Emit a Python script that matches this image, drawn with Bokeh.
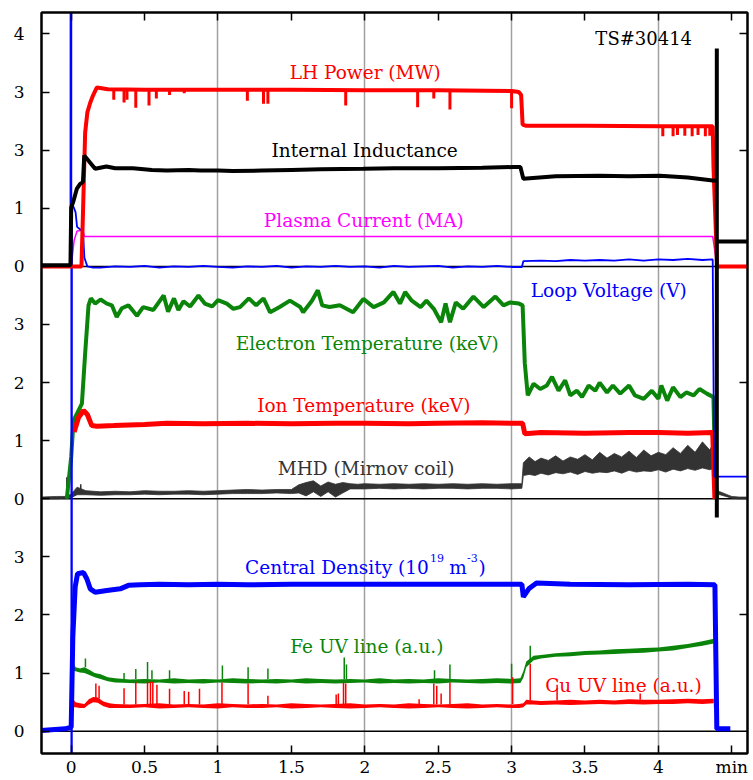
from bokeh.plotting import figure
from bokeh.models import Range1d, FixedTicker, LinearAxis, Span, Label
from bokeh.embed import file_html
from bokeh.resources import INLINE

# ---------------- axis / tick data ----------------
x_tick_vals = [0, 0.5, 1, 1.5, 2, 2.5, 3, 3.5, 4, 4.5]
x_tick_labels = ["0", "0.5", "1", "1.5", "2", "2.5", "3", "3.5", "4", "min"]
x_grid_vals = [1, 2, 3, 4]
y_tick_vals = [0, 1, 2, 3, 4, 5, 6, 7, 8, 9, 10, 11, 12]
y_tick_labels = ["0", "1", "2", "3", "0", "1", "2", "3", "0", "1", "3", "3", "4"]
y_right_ticks = [2, 6, 10, 12]
panel_zero = [0, 4, 8]

# ---------------- top panel ----------------
lh_t = [-0.21, 0.07, 0.08, 0.095, 0.11, 0.13, 0.15, 0.175, 0.25, 0.5, 1.0, 1.5, 2.0, 2.5,
        3.0, 3.05, 3.065, 3.075, 3.1, 3.5, 4.0, 4.37, 4.375, 4.40, 4.62]
lh_v = [0, 0, 0.9, 2.3, 2.65, 2.82, 2.95, 3.08, 3.05, 3.04, 3.04, 3.04, 3.03, 3.03,
        3.02, 3.0, 2.95, 2.44, 2.42, 2.42, 2.41, 2.41, 1.74, 0, 0]
lh_dip_t = [0.29, 0.36, 0.38, 0.44, 0.53, 0.58, 0.67, 0.77, 1.20, 1.31, 1.34, 1.87, 2.36,
            2.47, 2.58, 3.0, 4.03, 4.10, 4.13, 4.18, 4.23, 4.27, 4.32, 4.35]
lh_dip_base = [3.05, 3.05, 3.05, 3.05, 3.05, 3.05, 3.05, 3.05, 3.04, 3.04, 3.04, 3.04, 3.03,
               3.03, 3.03, 3.02, 2.41, 2.41, 2.41, 2.41, 2.41, 2.41, 2.41, 2.41]
lh_dip_v = [2.87, 2.82, 2.87, 2.73, 2.77, 2.89, 2.95, 2.98, 2.85, 2.80, 2.80, 2.77, 2.74,
            2.89, 2.70, 2.72, 2.24, 2.24, 2.26, 2.25, 2.24, 2.26, 2.24, 2.25]

li_t = [-0.21, -0.005, 0.0, 0.016, 0.039, 0.061, 0.08, 0.089, 0.118, 0.163, 0.24, 0.3, 0.42,
        0.55, 0.65, 0.8, 0.88, 1.0, 1.1, 1.3, 1.5, 1.7, 1.99, 2.2, 2.5, 2.8, 3.01, 3.06, 3.08,
        3.3, 3.6, 3.8, 4.01, 4.2, 4.37, 4.398, 4.398, 4.398, 4.398, 4.62]
li_v = [0.02, 0.02, 1.01, 1.13, 1.34, 1.42, 1.45, 1.91, 1.82, 1.68, 1.72, 1.69, 1.69,
        1.66, 1.65, 1.66, 1.65, 1.65, 1.64, 1.65, 1.66, 1.67, 1.68, 1.69, 1.69, 1.70, 1.71, 1.71, 1.51,
        1.55, 1.56, 1.55, 1.56, 1.53, 1.48, 1.48, 3.75, -4.32, 0.43, 0.43]

ip_t = [-0.21, 0.0, 0.02, 0.04, 0.08, 0.09, 4.37, 4.40, 4.62]
ip_v = [0, 0, 0.45, 0.61, 0.62, 0.515, 0.515, 0, 0]

lv_t = [-0.21, -0.005, 0.0, 0.002, 0.005, 0.015, 0.03, 0.04, 0.06, 0.08, 0.09, 0.11, 0.15,
        0.2, 0.3, 0.4, 0.5, 0.6, 0.7, 0.8, 0.9, 1.0, 1.1, 1.2, 1.3, 1.4, 1.5, 1.6, 1.7, 1.8,
        1.9, 2.0, 2.1, 2.2, 2.3, 2.4, 2.5, 2.6, 2.7, 2.8, 2.9, 3.0,
        3.07, 3.08, 3.2, 3.3, 3.4, 3.5, 3.6, 3.7, 3.8, 3.9, 4.0, 4.1, 4.2, 4.3, 4.37, 4.38, 4.62]
lv_v = [0, 0, 40, -40, 1.10, 1.03, 0.93, 0.68, 0.64, 0.60, 0.15, 0.0, -0.02,
        -0.02, 0.0, -0.01, 0.01, -0.02, 0.0, -0.01, 0.01, -0.01, -0.02, 0.0, -0.01, 0.01, -0.02, 0.0, -0.01, 0.01,
        -0.01, 0.0, -0.02, 0.01, -0.01, 0.0, 0.01, -0.02, 0.0, -0.01, 0.01, -0.01,
        -0.01, 0.09, 0.10, 0.09, 0.11, 0.10, 0.11, 0.10, 0.12, 0.10, 0.12, 0.11, 0.13, 0.11, 0.12, -3.62, -3.62]

# ---------------- middle panel ----------------
te_t = [-0.03, 0.0, 0.016, 0.04, 0.073, 0.095, 0.118, 0.134, 0.163, 0.2, 0.243, 0.277, 0.31, 0.345,
        0.39, 0.448, 0.49, 0.56, 0.63, 0.66, 0.70, 0.73, 0.765, 0.81, 0.867, 0.91, 0.96, 1.0, 1.06,
        1.105, 1.15, 1.21, 1.26, 1.31, 1.355, 1.42, 1.49, 1.56, 1.58, 1.64, 1.68, 1.71, 1.76, 1.83,
        1.92, 1.99, 2.06, 2.13, 2.195, 2.24, 2.275, 2.32, 2.38, 2.42, 2.47, 2.52, 2.55, 2.58, 2.62,
        2.67, 2.74, 2.81, 2.89, 2.945, 2.99, 3.05, 3.075, 3.09, 3.11, 3.15, 3.195, 3.24, 3.275, 3.32,
        3.365, 3.40, 3.445, 3.48, 3.525, 3.57, 3.60, 3.65, 3.69, 3.74, 3.80, 3.84, 3.90, 3.955, 4.0,
        4.02, 4.06, 4.10, 4.15, 4.19, 4.24, 4.28, 4.33, 4.375, 4.385, 4.40]
te_v = [0.0, 0.72, 1.35, 1.47, 1.64, 2.5, 3.33, 3.45, 3.36, 3.43, 3.36, 3.33, 3.13, 3.28,
        3.33, 3.15, 3.30, 3.25, 3.5, 3.22, 3.45, 3.25, 3.40, 3.31, 3.5, 3.36, 3.31, 3.42, 3.36,
        3.27, 3.30, 3.45, 3.33, 3.45, 3.21, 3.30, 3.41, 3.30, 3.21, 3.41, 3.59, 3.33, 3.30, 3.33,
        3.21, 3.44, 3.30, 3.38, 3.56, 3.36, 3.56, 3.41, 3.30, 3.41, 3.27, 3.04, 3.36, 3.04, 3.38,
        3.27, 3.48, 3.30, 3.48, 3.33, 3.38, 3.36, 3.33, 2.33, 1.78, 1.98, 1.89, 1.95, 2.10, 1.86,
        2.04, 1.78, 1.86, 1.75, 1.95, 1.86, 2.0, 1.83, 1.95, 1.81, 1.95, 1.78, 1.72, 1.86, 1.72,
        1.95, 1.69, 1.92, 1.75, 1.83, 1.78, 1.89, 1.81, 1.75, 0.6, 0.0]

ti_t = [0.02, 0.05, 0.084, 0.11, 0.14, 0.175, 0.29, 0.5, 0.65, 0.9, 1.2, 1.5, 1.8, 2.0, 2.3,
        2.5, 2.8, 3.0, 3.075, 3.09, 3.2, 3.5, 3.8, 4.0, 4.2, 4.37, 4.385]
ti_v = [1.15, 1.40, 1.52, 1.45, 1.26, 1.25, 1.26, 1.28, 1.30, 1.29, 1.30, 1.29, 1.30, 1.30, 1.29,
        1.30, 1.31, 1.30, 1.30, 1.12, 1.14, 1.13, 1.14, 1.14, 1.13, 1.14, 0.0]

mhd_t = [-0.21, -0.1, -0.04, 0.0, 0.04,
         0.1, 0.2, 0.3, 0.4, 0.5, 0.6, 0.7, 0.8, 0.9, 1.0, 1.1, 1.2, 1.3, 1.4, 1.5,
         1.55, 1.6, 1.65, 1.7, 1.75, 1.8, 1.85, 1.9, 1.95,
         2.0, 2.1, 2.2, 2.3, 2.4, 2.5, 2.6, 2.7, 2.8, 2.9, 3.0,
         3.07, 3.08, 3.12, 3.16,
         3.2, 3.25, 3.3, 3.35, 3.4, 3.45, 3.5, 3.55, 3.6, 3.65, 3.7, 3.75,
         3.8, 3.85, 3.9, 3.95, 4.0, 4.05, 4.1, 4.15, 4.2, 4.25, 4.3, 4.35,
         4.375, 4.39, 4.42, 4.46, 4.5, 4.55, 4.62]
mhd_lo = [0.00, 0.00, 0.01, 0.02, 0.07,
          0.07, 0.06, 0.07, 0.07, 0.08, 0.07, 0.08, 0.08, 0.07, 0.08, 0.09, 0.09, 0.09, 0.10, 0.09,
          0.10, 0.05, 0.12, 0.04, 0.12, 0.03, 0.10, 0.17, 0.17,
          0.17, 0.18, 0.17, 0.18, 0.17, 0.18, 0.18, 0.17, 0.18, 0.18, 0.17,
          0.18, 0.40, 0.42, 0.40,
          0.44, 0.41, 0.45, 0.43, 0.46, 0.42, 0.47, 0.44, 0.46, 0.45, 0.48, 0.44,
          0.49, 0.46, 0.48, 0.47, 0.50, 0.46, 0.51, 0.48, 0.52, 0.49, 0.53, 0.50,
          0.52, 0.08, 0.07, 0.04, 0.01, 0.00, 0.00]
mhd_hi = [0.03, 0.04, 0.04, 0.08, 0.20,
          0.14, 0.12, 0.13, 0.12, 0.14, 0.13, 0.13, 0.14, 0.13, 0.14, 0.15, 0.16, 0.15, 0.16, 0.16,
          0.24, 0.28, 0.31, 0.22, 0.29, 0.25, 0.28, 0.26, 0.25,
          0.26, 0.25, 0.26, 0.25, 0.26, 0.25, 0.26, 0.25, 0.26, 0.25, 0.26,
          0.26, 0.62, 0.72, 0.64,
          0.70, 0.66, 0.74, 0.65, 0.72, 0.68, 0.76, 0.67, 0.80, 0.70, 0.78, 0.72,
          0.82, 0.71, 0.84, 0.74, 0.80, 0.76, 0.88, 0.78, 0.92, 0.80, 0.98, 0.84,
          0.96, 0.14, 0.12, 0.08, 0.04, 0.03, 0.03]
mhd_spk_t = [-0.03, 0.065]
mhd_spk_base = [0.02, 0.12]
mhd_spk_top = [0.37, 0.25]

# ---------------- bottom panel ----------------
ne_t = [-0.21, -0.04, 0.0, 0.011, 0.027, 0.043, 0.084, 0.107, 0.13, 0.163, 0.243, 0.334, 0.39,
        0.47, 0.6, 0.8, 1.0, 1.2, 1.5, 2.0, 2.5, 3.0, 3.07, 3.08, 3.117, 3.17, 3.4, 3.8, 4.2,
        4.385, 4.398, 4.49]
ne_v = [0.01, 0.04, 0.07, 1.62, 2.48, 2.71, 2.73, 2.62, 2.45, 2.39, 2.42, 2.45, 2.51,
        2.52, 2.53, 2.52, 2.53, 2.52, 2.53, 2.53, 2.53, 2.53, 2.53, 2.31, 2.45, 2.55, 2.53, 2.52, 2.53,
        2.52, 0.04, 0.04]

fe_t = [0.011, 0.03, 0.06, 0.09, 0.12, 0.16, 0.2, 0.25, 0.3,
        0.4, 0.5, 0.6, 0.7, 0.8, 0.9, 1.0, 1.1, 1.2, 1.3, 1.4, 1.5, 1.6, 1.7, 1.8, 1.9, 2.0,
        2.1, 2.2, 2.3, 2.4, 2.5, 2.6, 2.7, 2.8, 2.9, 3.0,
        3.06, 3.08, 3.1, 3.15,
        3.2, 3.3, 3.4, 3.5, 3.6, 3.7, 3.8, 3.9, 4.0, 4.1, 4.2, 4.3,
        4.377, 4.385]
fe_lo = [1.04, 1.03, 1.01, 1.00, 0.97, 0.93, 0.90, 0.86, 0.84,
         0.83, 0.82, 0.84, 0.82, 0.83, 0.82, 0.84, 0.83, 0.82, 0.83, 0.82, 0.84, 0.82, 0.83, 0.82, 0.83, 0.84,
         0.82, 0.83, 0.82, 0.83, 0.82, 0.84, 0.83, 0.82, 0.83, 0.82,
         0.83, 0.92, 1.10, 1.22,
         1.25, 1.28, 1.29, 1.31, 1.32, 1.33, 1.34, 1.35, 1.37, 1.39, 1.43, 1.47,
         1.51, 0.0]
fe_hi = [1.20, 1.10, 1.08, 1.10, 1.06, 1.00, 0.98, 0.93, 0.91,
         0.89, 0.90, 0.89, 0.91, 0.89, 0.90, 0.89, 0.91, 0.90, 0.89, 0.90, 0.89, 0.91, 0.90, 0.89, 0.90, 0.89,
         0.91, 0.89, 0.90, 0.89, 0.91, 0.90, 0.89, 0.90, 0.91, 0.90,
         0.91, 1.03, 1.20, 1.30,
         1.31, 1.34, 1.36, 1.38, 1.39, 1.41, 1.42, 1.43, 1.44, 1.47, 1.50, 1.55,
         1.59, 0.02]
fe_spk_t = [0.011, 0.097, 0.36, 0.44, 0.52, 0.55, 0.67, 1.03, 1.205, 1.34, 1.86, 1.875, 2.475,
            2.58, 3.0, 3.127]
fe_spk_base = [1.05, 1.10, 0.90, 0.90, 0.90, 0.90, 0.90, 0.90, 0.90, 0.90, 0.90, 0.90, 0.90,
               0.90, 0.90, 1.20]
fe_spk_top = [1.27, 1.25, 1.00, 1.07, 1.19, 1.05, 1.05, 1.13, 1.10, 1.08, 1.27, 1.15, 1.05,
              1.15, 1.16, 1.47]

cu_t = [0.011, 0.03, 0.06, 0.09, 0.12, 0.15, 0.18, 0.22, 0.26, 0.3,
        0.4, 0.5, 0.6, 0.7, 0.8, 0.9, 1.0, 1.1, 1.2, 1.3, 1.4, 1.5, 1.6, 1.7, 1.8, 1.9, 2.0,
        2.1, 2.2, 2.3, 2.4, 2.5, 2.6, 2.7, 2.8, 2.9, 3.0,
        3.05, 3.08, 3.1, 3.15,
        3.2, 3.3, 3.4, 3.5, 3.6, 3.7, 3.8, 3.9, 4.0, 4.1, 4.2, 4.3,
        4.377, 4.385]
cu_lo = [0.41, 0.41, 0.40, 0.40, 0.46, 0.50, 0.49, 0.43, 0.40, 0.40,
         0.40, 0.41, 0.39, 0.40, 0.41, 0.40, 0.39, 0.41, 0.40, 0.40, 0.41, 0.39, 0.40, 0.41, 0.40, 0.39, 0.40,
         0.41, 0.40, 0.39, 0.40, 0.41, 0.40, 0.39, 0.40, 0.41, 0.40,
         0.40, 0.41, 0.46, 0.46,
         0.45, 0.46, 0.45, 0.46, 0.47, 0.46, 0.47, 0.46, 0.47, 0.47, 0.48, 0.47,
         0.48, 0.0]
cu_hi = [0.56, 0.50, 0.48, 0.47, 0.55, 0.59, 0.58, 0.51, 0.48, 0.47,
         0.46, 0.47, 0.48, 0.46, 0.47, 0.46, 0.48, 0.47, 0.46, 0.47, 0.46, 0.48, 0.47, 0.46, 0.47, 0.48, 0.46,
         0.47, 0.46, 0.48, 0.47, 0.46, 0.47, 0.48, 0.46, 0.47, 0.46,
         0.47, 0.48, 0.54, 0.53,
         0.52, 0.53, 0.54, 0.53, 0.54, 0.53, 0.55, 0.54, 0.54, 0.55, 0.56, 0.55,
         0.56, 0.02]
cu_spk_t = [0.168, 0.19, 0.36, 0.44, 0.52, 0.54, 0.556, 0.584, 0.67, 0.77, 0.80, 0.874, 1.027,
            1.205, 1.34, 1.805, 1.82, 1.855, 1.87, 2.37, 2.47, 2.49, 2.52, 2.58, 3.007, 3.127,
            3.31, 3.876]
cu_spk_base = [0.56, 0.56, 0.46, 0.46, 0.46, 0.46, 0.46, 0.46, 0.46, 0.46, 0.46, 0.46, 0.46,
               0.46, 0.46, 0.46, 0.46, 0.46, 0.46, 0.46, 0.46, 0.46, 0.46, 0.46, 0.47, 0.53,
               0.53, 0.54]
cu_spk_top = [0.82, 0.78, 0.74, 0.85, 0.85, 0.85, 0.85, 0.80, 0.73, 0.69, 0.68, 0.73, 0.84,
              0.82, 0.61, 0.63, 0.65, 0.84, 0.82, 0.55, 0.82, 0.78, 0.65, 0.84, 0.93, 1.16,
              0.80, 0.65]

for a, b in [(lh_t, lh_v), (li_t, li_v), (ip_t, ip_v), (lv_t, lv_v), (te_t, te_v), (ti_t, ti_v),
             (ne_t, ne_v), (mhd_t, mhd_lo), (mhd_t, mhd_hi), (fe_t, fe_lo), (fe_t, fe_hi),
             (cu_t, cu_lo), (cu_t, cu_hi), (lh_dip_t, lh_dip_v), (lh_dip_t, lh_dip_base),
             (fe_spk_t, fe_spk_top), (fe_spk_t, fe_spk_base), (cu_spk_t, cu_spk_top),
             (cu_spk_t, cu_spk_base)]:
    assert len(a) == len(b), (len(a), len(b))

# ---------------- colours / styles ----------------
RED = "#ff0000"
BLACK = "#000000"
MAGENTA = "#ff00ff"
BLUE = "#0000ff"
GREEN = "#0a850a"
DARK = "#333333"
FONT = "DejaVu Serif"
LBL = "18.5px"
TICK = "17px"

X0, X1 = -0.2023, 4.607
Y0, Y1 = -0.384, 12.37

p = figure(width=753, height=780, x_range=Range1d(X0, X1), y_range=Range1d(Y0, Y1),
           output_backend="svg", toolbar_location=None,
           min_border_left=41, min_border_right=6, min_border_top=12, min_border_bottom=27)
p.extra_y_ranges = {
    "top": Range1d(Y0 - panel_zero[2], Y1 - panel_zero[2]),
    "mid": Range1d(Y0 - panel_zero[1], Y1 - panel_zero[1]),
    "bot": Range1d(Y0 - panel_zero[0], Y1 - panel_zero[0]),
}
p.outline_line_color = "black"
p.outline_line_width = 2
p.background_fill_color = "white"
p.border_fill_color = "white"

# axes
xa = p.xaxis[0]
xa.ticker = FixedTicker(ticks=x_tick_vals)
xa.major_label_overrides = {v: s for v, s in zip(x_tick_vals, x_tick_labels)}
ya = p.yaxis[0]
ya.ticker = FixedTicker(ticks=y_tick_vals)
ya.major_label_overrides = {v: s for v, s in zip(y_tick_vals, y_tick_labels)}
for ax in (xa, ya):
    ax.major_tick_in = 8
    ax.major_tick_out = 0
    ax.minor_tick_line_color = None
    ax.major_tick_line_width = 1.5
    ax.axis_line_width = 2
    ax.major_label_text_font = FONT
    ax.major_label_text_font_size = TICK
    ax.major_label_text_color = "black"
xa.major_label_standoff = 3
ya.major_label_standoff = 17

top_ax = LinearAxis(ticker=FixedTicker(ticks=x_tick_vals), major_label_text_font_size="0px",
                    major_label_text_color=None,
                    major_tick_in=8, major_tick_out=0, major_label_standoff=0,
                    minor_tick_line_color=None, axis_line_width=2, major_tick_line_width=1.5)
p.add_layout(top_ax, "above")
right_ax = LinearAxis(ticker=FixedTicker(ticks=y_right_ticks), major_label_text_font_size="0px",
                      major_label_text_color=None,
                      major_tick_in=8, major_tick_out=0, major_label_standoff=0,
                      minor_tick_line_color=None, axis_line_width=2, major_tick_line_width=1.5)
p.add_layout(right_ax, "right")

p.xgrid.ticker = FixedTicker(ticks=x_grid_vals)
p.xgrid.grid_line_color = "#a0a0a0"
p.xgrid.grid_line_width = 1.5
p.ygrid.grid_line_color = None

for z in panel_zero:
    p.add_layout(Span(location=z, dimension="width", line_color="black", line_width=1.5,
                      level="underlay"))

# ---------------- middle panel glyphs ----------------
p.varea(x=mhd_t, y1=mhd_lo, y2=mhd_hi, fill_color=DARK, y_range_name="mid")
p.line(mhd_t, mhd_lo, line_color=DARK, line_width=0.8, y_range_name="mid")
p.line(mhd_t, mhd_hi, line_color=DARK, line_width=0.8, y_range_name="mid")
p.segment(x0=mhd_spk_t, y0=mhd_spk_base, x1=mhd_spk_t, y1=mhd_spk_top, line_color=DARK,
          line_width=1.5, y_range_name="mid")
p.line(te_t, te_v, line_color=GREEN, line_width=4, y_range_name="mid")
p.line(ti_t, ti_v, line_color=RED, line_width=5, y_range_name="mid")

# ---------------- bottom panel glyphs ----------------
p.varea(x=fe_t, y1=fe_lo, y2=fe_hi, fill_color=GREEN, y_range_name="bot")
p.segment(x0=fe_spk_t, y0=fe_spk_base, x1=fe_spk_t, y1=fe_spk_top, line_color=GREEN,
          line_width=1.5, y_range_name="bot")
p.varea(x=cu_t, y1=cu_lo, y2=cu_hi, fill_color=RED, y_range_name="bot")
p.segment(x0=cu_spk_t, y0=cu_spk_base, x1=cu_spk_t, y1=cu_spk_top, line_color=RED,
          line_width=1.5, y_range_name="bot")
p.line(ne_t, ne_v, line_color=BLUE, line_width=5, y_range_name="bot")

# ---------------- top panel glyphs ----------------
p.line(ip_t, ip_v, line_color=MAGENTA, line_width=1.5, y_range_name="top")
p.line(lv_t, lv_v, line_color=BLUE, line_width=1.8, y_range_name="top")
p.line(lh_t, lh_v, line_color=RED, line_width=4, y_range_name="top")
p.segment(x0=lh_dip_t, y0=lh_dip_base, x1=lh_dip_t, y1=lh_dip_v, line_color=RED,
          line_width=3, y_range_name="top")
p.line(li_t, li_v, line_color=BLACK, line_width=4, y_range_name="top")

# ---------------- annotations ----------------
def lbl(x, y, text, color, align="center", size=LBL):
    p.add_layout(Label(x=x, y=y, text=text, text_color=color, text_font=FONT,
                       text_font_size=size, text_align=align, text_baseline="alphabetic"))

lbl(2.003, 11.33, "LH Power (MW)", RED)
lbl(1.999, 10.0, "Internal Inductance", BLACK)
lbl(1.993, 8.79, "Plasma Current (MA)", MAGENTA)
lbl(3.662, 7.577, "Loop Voltage (V)", BLUE)
lbl(2.016, 6.668, "Electron Temperature (keV)", GREEN)
lbl(1.993, 5.61, "Ion Temperature (keV)", RED)
lbl(2.009, 4.516, "MHD (Mirnov coil)", DARK)
lbl(2.436, 2.81, "Central Density (10", BLUE, align="right")
lbl(2.444, 2.985, "19", BLUE, align="left", size="11px")
lbl(2.575, 2.81, "m", BLUE, align="left")
lbl(2.697, 2.985, "-3", BLUE, align="left", size="11px")
lbl(2.775, 2.81, ")", BLUE, align="left")
lbl(2.014, 1.458, "Fe UV line (a.u.)", GREEN)
lbl(3.762, 0.787, "Cu UV line (a.u.)", RED)
lbl(3.90, 11.93, "TS#30414", BLACK, size="18px")

open("out.html", "w").write(file_html(p, INLINE))
